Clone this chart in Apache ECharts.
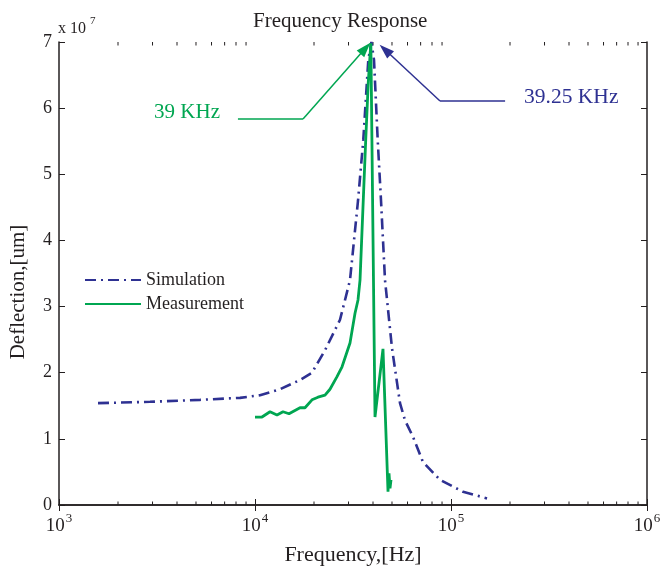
<!DOCTYPE html>
<html><head><meta charset="utf-8">
<script src="https://cdn.jsdelivr.net/npm/echarts@6/dist/echarts.min.js"></script>
<style>html,body{margin:0;padding:0;background:#fff}#c{width:660px;height:567px}</style>
</head><body><div id="c"></div>
<script>
// Simulation (x 10^7 um)
const simFreq = [1581, 2913, 5241, 8385, 10605, 13416, 16967, 19537, 22762, 27145, 28792, 30527, 33540, 35690, 37850, 39250, 40470, 42270, 43950, 46060, 50000, 54930, 58270, 64000, 71950, 87890, 115160, 152700];
const simDefl = [1.54, 1.56, 1.59, 1.62, 1.66, 1.75, 1.89, 2.0, 2.34, 2.8, 3.1, 3.4, 4.6, 5.52, 6.73, 7.0, 6.73, 5.52, 4.6, 3.4, 2.37, 1.54, 1.28, 1.03, 0.65, 0.38, 0.2, 0.1];
// Measurement
const measFreq = [10000, 10857, 11927, 12948, 13900, 14912, 16967, 17990, 19537, 20960, 22762, 24130, 26210, 27800, 30527, 32380, 33540, 34340, 36720, 37850, 39000, 40950, 44980, 47710, 48280, 48850, 49420];
const measDefl = [1.33, 1.33, 1.41, 1.36, 1.41, 1.38, 1.47, 1.47, 1.59, 1.63, 1.66, 1.75, 1.94, 2.09, 2.45, 2.9, 3.1, 3.4, 5.52, 6.4, 6.98, 1.33, 2.36, 0.2, 0.48, 0.25, 0.38];
// Axis ticks
const yTicks = [0, 1, 2, 3, 4, 5, 6, 7];
const xMinorTicks = [2e3,3e3,4e3,5e3,6e3,7e3,8e3,9e3,2e4,3e4,4e4,5e4,6e4,7e4,8e4,9e4,2e5,3e5,4e5,5e5,6e5,7e5,8e5,9e5];
// Annotations (data coords)
const greenPath = [[8184, 5.836], [17580, 5.836], [36590, 6.905]];
const bluePath = [[188800, 6.108], [87890, 6.108], [46110, 6.882]];
const greenLabel = {text: '39 KHz', at: [6628, 5.927]};
const blueLabel = {text: '39.25 KHz', at: [236000, 6.169]};

const BLUE = '#2E3192', GREEN = '#00A651', INK = '#231F20';
const FONT = 'Liberation Serif';

function pathToMark(p){
  return [
    [{coord: p[0], symbol: 'none'}, {coord: p[1], symbol: 'none'}],
    [{coord: p[1], symbol: 'none'}, {coord: p[2], symbol: 'triangle', symbolSize: [10, 15]}]
  ];
}

const chart = echarts.init(document.getElementById('c'), null, {renderer: 'canvas'});
const option = {
  animation: false,
  backgroundColor: '#fff',
  title: {text: 'Frequency Response', left: 248, top: 6,
    textStyle: {fontFamily: FONT, fontSize: 21, fontWeight: 'normal', color: INK}},
  grid: {left: 59, right: 13, top: 42, bottom: 62, containLabel: false, outerBoundsMode: 'none'},
  legend: {
    orient: 'vertical', left: 79, top: 266, itemWidth: 56, itemHeight: 14, itemGap: 6,
    itemStyle: {opacity: 0},
    textStyle: {fontFamily: FONT, fontSize: 18, color: INK},
    data: ['Simulation', 'Measurement'], selectedMode: false
  },
  xAxis: [{
    type: 'log', logBase: 10, min: 1000, max: 1000000, position: 'bottom',
    name: 'Frequency,[Hz]', nameLocation: 'middle', nameGap: 31,
    nameTextStyle: {fontFamily: FONT, fontSize: 22, color: INK},
    axisLine: {lineStyle: {color: INK, width: 1.5}},
    axisTick: {inside: true, length: 6, lineStyle: {color: INK}},
    splitLine: {show: false},
    axisLabel: {
      margin: 7,
      formatter: v => '{b|10}{s|' + Math.round(Math.log10(v)) + '}',
      rich: {
        b: {fontFamily: FONT, fontSize: 19, color: INK, verticalAlign: 'bottom', lineHeight: 24},
        s: {fontFamily: FONT, fontSize: 13, color: INK, verticalAlign: 'top', lineHeight: 24, padding: [0, 0, 14, 1]}
      }
    }
  }, {
    type: 'log', logBase: 10, min: 1000, max: 1000000, position: 'top',
    axisLine: {lineStyle: {color: INK, width: 1.5}},
    axisTick: {inside: true, length: 6, lineStyle: {color: INK}},
    axisLabel: {show: false}, splitLine: {show: false}
  }],
  yAxis: [{
    type: 'value', min: 0, max: 7, interval: 1, position: 'left',
    axisLine: {show: true, lineStyle: {color: INK, width: 1.5}},
    axisTick: {show: true, inside: true, length: 6, lineStyle: {color: INK}},
    splitLine: {show: false},
    axisLabel: {margin: 7, fontFamily: FONT, fontSize: 18, color: INK,
      formatter: v => yTicks.includes(v) ? String(v) : ''}
  }, {
    type: 'value', min: 0, max: 7, interval: 1, position: 'right',
    axisLine: {show: true, lineStyle: {color: INK, width: 1.5}},
    axisTick: {show: true, inside: true, length: 6, lineStyle: {color: INK}},
    splitLine: {show: false}, axisLabel: {show: false}
  }],
  series: [{
    name: 'Simulation', type: 'line', symbol: 'none', smooth: false,
    data: simFreq.map((f, i) => [f, simDefl[i]]),
    lineStyle: {color: BLUE, width: 2.6, type: [11, 5, 2, 5]},
    itemStyle: {color: BLUE},
    markLine: {silent: true, animation: false, label: {show: false},
      lineStyle: {color: BLUE, width: 1.5, type: 'solid'},
      emphasis: {disabled: true},
      data: pathToMark(bluePath)}
  }, {
    name: 'Measurement', type: 'line', symbol: 'none', smooth: false,
    data: measFreq.map((f, i) => [f, measDefl[i]]),
    lineStyle: {color: GREEN, width: 2.8, type: 'solid'},
    itemStyle: {color: GREEN},
    markLine: {silent: true, animation: false, label: {show: false},
      lineStyle: {color: GREEN, width: 1.5, type: 'solid'},
      emphasis: {disabled: true},
      data: pathToMark(greenPath)}
  }, {
    name: 'minorTicks', type: 'custom', silent: true, clip: false,
    data: xMinorTicks.map(v => [v]),
    encode: {x: 0},
    renderItem: function (params, api) {
      const v = api.value(0);
      const b = api.coord([v, 0]);
      const t = api.coord([v, 7]);
      const st = {stroke: INK, lineWidth: 1};
      return {type: 'group', children: [
        {type: 'line', shape: {x1: b[0], y1: b[1], x2: b[0], y2: b[1] - 3.5}, style: st},
        {type: 'line', shape: {x1: t[0], y1: t[1], x2: t[0], y2: t[1] + 3.5}, style: st}
      ]};
    }
  }]
};
chart.setOption(option);

const gp = chart.convertToPixel({gridIndex: 0}, greenLabel.at);
const bp = chart.convertToPixel({gridIndex: 0}, blueLabel.at);
chart.setOption({
  graphic: [
    {type: 'text', x: gp[0], y: gp[1], style: {text: greenLabel.text, fill: GREEN, font: '21px "Liberation Serif"', textAlign: 'right', textVerticalAlign: 'middle'}},
    {type: 'text', x: bp[0], y: bp[1], style: {text: blueLabel.text, fill: BLUE, font: '21.5px "Liberation Serif"', textAlign: 'left', textVerticalAlign: 'middle'}},
    {type: 'text', x: 18, y: 292, rotation: Math.PI / 2, style: {text: 'Deflection,[um]', fill: INK, font: '21px "Liberation Serif"', textAlign: 'center', textVerticalAlign: 'middle'}},
    {type: 'text', x: 58, y: 29, style: {text: 'x 10', fill: INK, font: '16px "Liberation Serif"', textVerticalAlign: 'middle'}},
    {type: 'text', x: 90, y: 21, style: {text: '7', fill: INK, font: '11px "Liberation Serif"', textVerticalAlign: 'middle'}}
  ]
});
</script>
</body></html>
